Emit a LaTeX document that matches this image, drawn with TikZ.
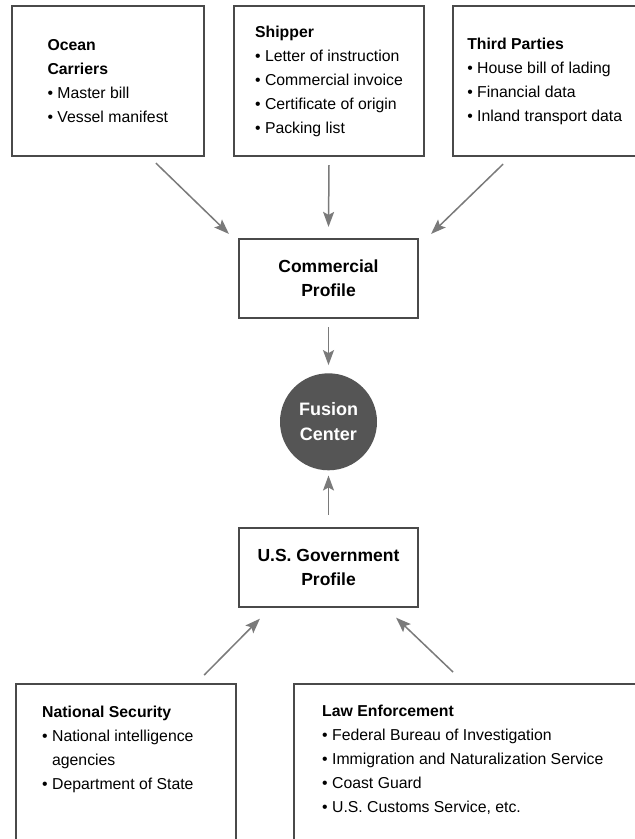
\documentclass[tikz,border=0pt]{standalone}
\usepackage{fontspec}
\setmainfont{Liberation Sans}
\usepackage{xcolor}
\usepackage{tikz}
\usetikzlibrary{positioning, arrows.meta}

\definecolor{framegray}{HTML}{4A4A4A}
\definecolor{arrowgray}{HTML}{7A7A7A}
\definecolor{hubgray}{HTML}{555555}

\begin{document}
\begin{tikzpicture}[
    x = 1pt, y = -1pt,
    source/.style = {
        draw=framegray, line width=2.2pt, rectangle, align=left, inner sep=0pt,
        minimum height=150pt, font=\fontsize{15.8}{24}\selectfont
    },
    listing/.style = {align=left, inner sep=0pt, font=\fontsize{15.8}{24}\selectfont},
    profile/.style = {
        draw=framegray, line width=2.2pt, rectangle, align=center,
        minimum width=179pt, minimum height=79pt,
        font=\bfseries\fontsize{17.5}{24}\selectfont
    },
    hub/.style = {
        circle, fill=hubgray, minimum size=97pt, inner sep=0pt,
        text=white, align=center, font=\bfseries\fontsize{18}{25}\selectfont
    },
    feed/.style = {draw=arrowgray, line width=1.5pt, -{Stealth[length=15pt, width=11pt, inset=3pt]}}
  ]
    \path[use as bounding box, fill=white] (0,0) rectangle (635,839);

    \node[source, minimum width=190pt] (shipper) at (329,81)
        {\textbf{Shipper}\\ \textbullet\ Letter of instruction\\ \textbullet\ Commercial invoice\\
         \textbullet\ Certificate of origin\\ \textbullet\ Packing list};  % middle top
    \node[source, minimum width=192pt, left=28pt of shipper] (ocean)
        {\textbf{Ocean}\\ \textbf{Carriers}\\ \textbullet\ Master bill\\ \textbullet\ Vessel manifest};  % left top
    \node[source, minimum width=183pt, right=27pt of shipper] (third)
        {\textbf{Third Parties}\\ \textbullet\ House bill of lading\\ \textbullet\ Financial data\\
         \textbullet\ Inland transport data};  % right top

    \node[profile] (commercial) at (328.5,278.5) {Commercial\\ Profile};
    \node[hub, below=54pt of commercial] (fusion) {Fusion\\ Center};  % centre
    \node[profile, below=56pt of fusion] (usgov) {U.S. Government\\ Profile};

    \node[source, minimum width=220pt, minimum height=170pt, anchor=north west] (natsec) at (15,683) {};  % left bottom
    \node[listing, below right=23pt and 27pt of natsec.north west] (natsectext)
        {\textbf{National Security}\\ \textbullet\ National intelligence\\ \phantom{\textbullet\ }agencies\\
         \textbullet\ Department of State};
    \node[source, minimum width=343pt, minimum height=170pt, anchor=north west] (lawenf) at (293,683) {};  % right bottom
    \node[listing, below right=22pt and 29pt of lawenf.north west] (lawenftext)
        {\textbf{Law Enforcement}\\ \textbullet\ Federal Bureau of Investigation\\
         \textbullet\ Immigration and Naturalization Service\\ \textbullet\ Coast Guard\\
         \textbullet\ U.S. Customs Service, etc.};

    \draw[feed] ([shift={(-49,6)}]ocean.south east) -- ([shift={(-9,-4)}]commercial.north west);
    \draw[feed] ([shift={(0,8)}]shipper.south) -- ([shift={(0,-11)}]commercial.north);
    \draw[feed] ([shift={(51,7)}]third.south west) -- ([shift={(12,-4)}]commercial.north east);
    \draw[feed] ([shift={(0,8)}]commercial.south) -- ([shift={(0,-8)}]fusion.north);
    \draw[feed] ([shift={(0,-12)}]usgov.north) -- ([shift={(0,5)}]fusion.south);
    \draw[feed] ([shift={(-33,-8)}]natsec.north east) -- ([shift={(22,11)}]usgov.south west);
    \draw[feed] ([shift={(160,-11)}]lawenf.north west) -- ([shift={(-23,10)}]usgov.south east);
\end{tikzpicture}
\end{document}
